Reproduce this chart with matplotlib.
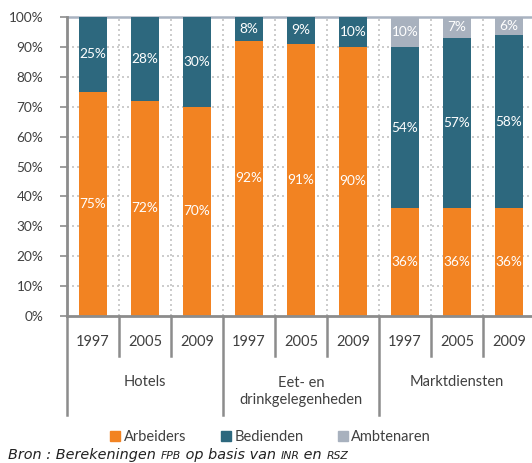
import matplotlib
matplotlib.use('Agg')
import matplotlib.pyplot as plt
import numpy as np
from matplotlib.patches import Patch
from matplotlib.offsetbox import TextArea, HPacker, AnchoredOffsetbox

plt.rcParams['font.family'] = ['Lato', 'DejaVu Sans']

# data
years = ['1997', '2005', '2009'] * 3
groups = ['Hotels', 'Eet- en\ndrinkgelegenheden', 'Marktdiensten']
arbeiders = [75, 72, 70, 92, 91, 90, 36, 36, 36]
bedienden = [25, 28, 30, 8, 9, 10, 54, 57, 58]
ambtenaren = [0, 0, 0, 0, 0, 0, 10, 7, 6]
series_names = ['Arbeiders', 'Bedienden', 'Ambtenaren']
colors = ['#F28322', '#2D687E', '#A8B1BE']
txt = '#404040'

fig = plt.figure(figsize=(5.32, 4.63), dpi=100)
W, H = 532, 463
x0, pitch = 67, 52.0
ax = fig.add_axes([x0 / W, (H - 316) / H, 9 * pitch / W, 299 / H])

x = np.arange(9)
bottom = np.zeros(9)
for vals, col in zip([arbeiders, bedienden, ambtenaren], colors):
    vals = np.array(vals, dtype=float)
    ax.bar(x, vals, 0.53, bottom=bottom, color=col, zorder=3)
    for xi, v, b in zip(x, vals, bottom):
        if v > 0:
            ax.text(xi, b + v / 2, f'{v:.0f}%', ha='center', va='center',
                    color='white', fontsize=9.8, zorder=4)
    bottom += vals

ax.set_xlim(-0.5, 8.5)
ax.set_ylim(0, 100)
ax.set_yticks(range(0, 101, 10))
ax.set_yticklabels([f'{v}%' for v in range(0, 101, 10)])
ax.tick_params(axis='y', colors='#8c8c8c', length=5, width=1.2, pad=12,
               labelcolor=txt, labelsize=9.8)
ax.set_xticks([])
for s in ['top', 'right']:
    ax.spines[s].set_visible(False)
for s in ['left', 'bottom']:
    ax.spines[s].set_color('#8c8c8c')
    ax.spines[s].set_linewidth(2)
    ax.spines[s].set_zorder(5)

for v in range(10, 100, 10):
    ax.axhline(v, color='#c4c4c4', lw=1.2, ls=(0, (1.2, 1.8)), zorder=1)
for xv in np.arange(0.5, 8.5, 1):
    ax.axvline(xv, color='#c4c4c4', lw=1.2, ls=(0, (1.2, 1.8)), zorder=1)
ax.axhline(100, color='#a9b3c1', lw=1.8, zorder=2, clip_on=False)

# category axis below
tr = ax.get_xaxis_transform()
for xv in np.arange(0.5, 8.5, 1):
    if xv in (2.5, 5.5):
        continue
    ax.plot([xv, xv], [0, -0.134], color='#8c8c8c', lw=1.8, transform=tr, clip_on=False)
for xv in [-0.5, 2.5, 5.5, 8.5]:
    ax.plot([xv, xv], [0, -0.331], color='#8c8c8c', lw=1.8, transform=tr, clip_on=False)
for xi, y in zip(x, years):
    ax.text(xi, -0.087, y, ha='center', va='center', color=txt, fontsize=10.5, transform=tr)
for gi, g in enumerate(groups):
    ax.text(gi * 3 + 1, -0.222 if '\n' not in g else -0.253, g, ha='center', va='center',
            color=txt, fontsize=10.5, linespacing=1.3, transform=tr)

handles = [Patch(color=c) for c in colors]
fig.legend(handles, series_names, loc='center', bbox_to_anchor=(0.509, 1 - 437 / H),
           ncol=3, frameon=False, fontsize=10.5, handlelength=0.65, handleheight=0.65,
           handletextpad=0.25, columnspacing=2.4, labelcolor=txt)

# source line with small caps pieces
pieces = [('Bron : Berekeningen ', 10.4), ('FPB', 7.8), (' op basis van ', 10.4),
          ('INR', 7.8), (' en ', 10.4), ('RSZ', 7.8)]
areas = [TextArea(t, textprops=dict(fontsize=s, style='italic', color='#222222',
                                    family='DejaVu Sans'))
         for t, s in pieces]
box = HPacker(children=areas, align='baseline', pad=0, sep=0)
anch = AnchoredOffsetbox(loc='center left', child=box, pad=0, frameon=False,
                         bbox_to_anchor=(8 / W, 1 - 455 / H),
                         bbox_transform=fig.transFigure, borderpad=0)
fig.add_artist(anch)

fig.savefig('out.png', dpi=100)
